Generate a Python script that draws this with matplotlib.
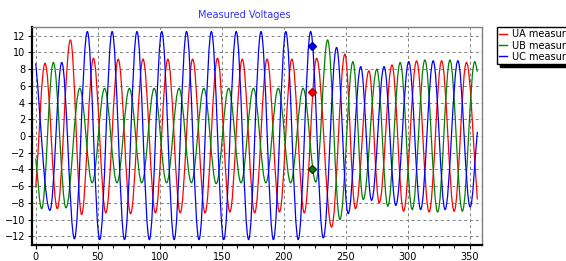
import matplotlib
matplotlib.use("Agg")
import matplotlib.pyplot as plt
from matplotlib.path import Path
from matplotlib.patches import PathPatch
from matplotlib.lines import Line2D
from matplotlib.ticker import MultipleLocator

# === Dati: picchi / valli di ogni fase (campione, tensione) ===
ua_x = [0, 7.5, 17.4, 28, 37, 46.5, 56.5, 66.5, 76.5, 86.5, 96.5, 106.5, 116.5,
        126.5, 136.5, 146.5, 156.5, 166.5, 176.5, 186.5, 196.5, 206.5, 216.5,
        226.4, 238.5, 249.2, 257.7, 268.6, 276.9, 287.2, 296.5, 307, 317.1,
        327.2, 337.3, 347.2, 356]
ua_y = [-6.2, 8.7, -8.7, 11.5, -9.4, 9.3, -9.2, 9.2, -9.3, 9.2, -9.2, 9.2, -9.2,
        9.2, -9.2, 9.3, -9.1, 9.2, -9.2, 9.2, -9.1, 9.2, -9.2,
        9.3, -10.9, 9.8, -8.7, 7.8, -8.0, 8.5, -9.0, 9.0, -9.1,
        9.0, -9.0, 8.8, -7.6]

ub_x = [0, 4.8, 14.2, 24.4, 35.5, 45.5, 55.5, 65.5, 75.5, 85.5, 95.5, 105.5,
        115.5, 125.5, 135.5, 145.5, 155.5, 165.5, 175.5, 185.5, 195.5, 205.5,
        215.5, 225.8, 235.3, 245.2, 255.7, 264, 275, 283.8, 293.8, 303.5,
        313.7, 324, 333.9, 343.9, 353.9, 356]
ub_y = [-2.7, -8.7, 8.8, -8.6, 5.7, -5.6, 5.7, -5.6, 5.7, -5.6, 5.7, -5.6,
        5.7, -5.6, 5.7, -5.7, 5.7, -5.6, 5.7, -5.6, 5.7, -5.6,
        5.7, -5.5, 11.5, -10.0, 8.9, -7.6, 8.0, -8.4, 8.8, -8.8,
        9.1, -9.1, 9.1, -9.0, 8.9, 7.7]

uc_x = [0, 11.5, 21, 31.2, 41.6, 51.6, 61.6, 71.6, 81.6, 91.6, 101.6, 111.6,
        121.6, 131.6, 141.6, 151.6, 161.6, 171.6, 181.6, 191.6, 201.6, 211.6,
        221.6, 231.8, 242.5, 251.9, 262, 270.7, 280.8, 290.3, 300.7, 310.3,
        320.4, 330, 340.3, 350.2, 356]
uc_y = [8.7, -8.9, 8.8, -12.3, 12.5, -12.4, 12.5, -12.4, 12.5, -12.4, 12.5, -12.4,
        12.5, -12.4, 12.5, -12.4, 12.5, -12.4, 12.5, -12.4, 12.5, -12.4,
        12.5, -12.2, 10.6, -9.3, 8.3, -7.7, 8.3, -8.3, 8.9, -8.8,
        9.0, -8.8, 9.0, -8.5, 0.5]

labels = ["UA measured", "UB measured", "UC measured"]
colors = ["#ff0000", "#008000", "#0000ff"]
marker_x = 223
marker_y = [5.3, -4.0, 10.8]
marker_edge = ["#b00000", "#004000", "#000090"]


def smooth_path(xs, ys, k=0.36):
    # curva liscia tra picchi e valli (tangente orizzontale sugli estremi)
    verts = [(xs[0], ys[0])]
    codes = [Path.MOVETO]
    n = len(xs)
    for i in range(n - 1):
        x0, y0, x1, y1 = xs[i], ys[i], xs[i + 1], ys[i + 1]
        dx, dy = x1 - x0, y1 - y0
        t0 = 0 if i > 0 else dy
        t1 = 0 if i + 1 < n - 1 else dy
        verts += [(x0 + k * dx, y0 + k * t0), (x1 - k * dx, y1 - k * t1), (x1, y1)]
        codes += [Path.CURVE4] * 3
    return Path(verts, codes)


fig = plt.figure(figsize=(5.66, 2.61), dpi=100)
ax = fig.add_axes([32 / 566, 16 / 261, 449.7 / 566, 218 / 261])

series = [(ua_x, ua_y), (ub_x, ub_y), (uc_x, uc_y)]
for (xs, ys), c in zip(series, colors):
    ax.add_patch(PathPatch(smooth_path(xs, ys), fill=False, edgecolor=c, lw=0.9))

for y, c, e in zip(marker_y, colors, marker_edge):
    ax.plot(marker_x, y, "D", color=c, markeredgecolor=e, markersize=4.5, zorder=5)

ax.set_xlim(-3, 359.5)
ax.set_ylim(-13.05, 13.05)
ax.set_yticks(range(-12, 13, 2))
ax.set_xticks(range(0, 351, 50))
ax.xaxis.set_minor_locator(MultipleLocator(12.5))
ax.tick_params(labelsize=7, length=3, width=0.8, pad=2)
ax.tick_params(which="minor", length=2, width=0.8)
ax.grid(True, which="major", color="#808080", linestyle=(0, (3, 3)), linewidth=0.7)
ax.set_axisbelow(True)

for side in ["left", "bottom"]:
    ax.spines[side].set_linewidth(1.6)
    ax.spines[side].set_color("black")
for side in ["top", "right"]:
    ax.spines[side].set_linewidth(1.0)
    ax.spines[side].set_color("#808080")

fig.text(244.7 / 566, 1 - 15 / 261, "Measured Voltages", ha="center", va="center",
         color="#3030ff", fontsize=7)

# legenda tagliata dal bordo destro, come nell'originale
handles = [Line2D([0], [0], color=c, lw=1.0) for c in colors]
fig.legend(handles, labels, loc="upper left", bbox_to_anchor=(497 / 566, 1 - 27 / 261),
           fontsize=7, frameon=True, fancybox=False, edgecolor="black",
           shadow={"color": "black", "alpha": 1}, handlelength=0.8,
           handletextpad=0.5, borderpad=0.25, labelspacing=0.12, borderaxespad=0)

fig.savefig("out.png", dpi=100)
